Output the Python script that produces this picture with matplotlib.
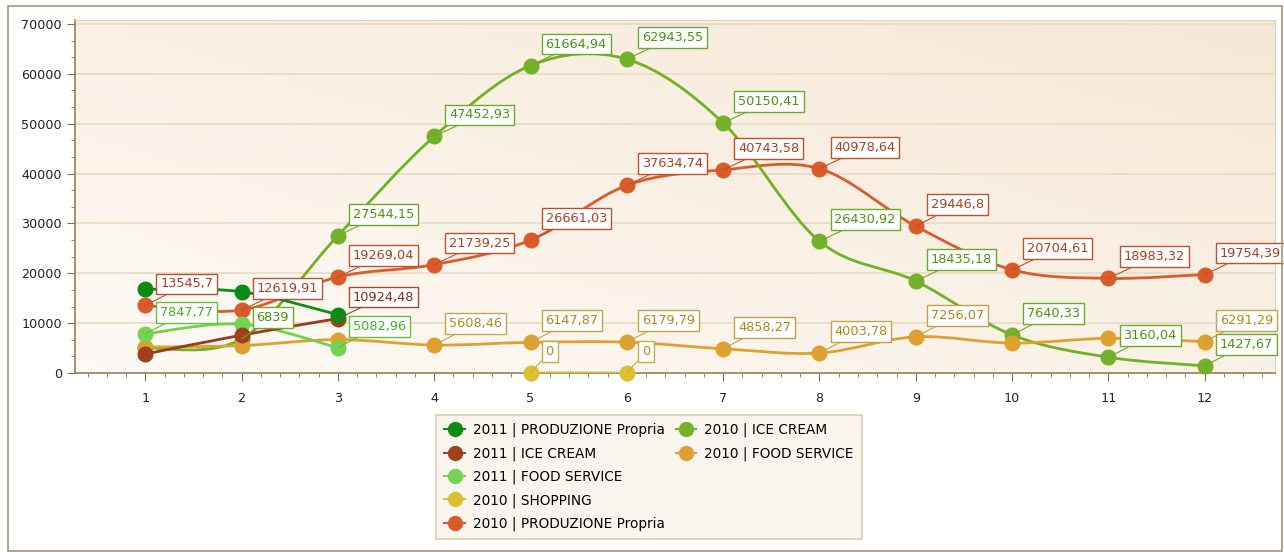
import numpy as np
import matplotlib.pyplot as plt
from matplotlib.path import Path
from matplotlib.patches import PathPatch, Rectangle
from matplotlib.lines import Line2D
from matplotlib.ticker import MultipleLocator

# months
months = list(range(1, 13))

# series values
prod_2011 = [16800, 16300, 11700]
ice_2011 = [3800, 7600, 10924.48]
food_2011 = [7847.77, 9800, 5082.96]
shop_2010_x = [5, 6]
shop_2010 = [0, 0]
prod_2010 = [13545.7, 12619.91, 19269.04, 21739.25, 26661.03, 37634.74,
             40743.58, 40978.64, 29446.8, 20704.61, 18983.32, 19754.39]
ice_2010 = [5000, 6839, 27544.15, 47452.93, 61664.94, 62943.55,
            50150.41, 26430.92, 18435.18, 7640.33, 3160.04, 1427.67]
food_2010 = [5200, 5500, 6700, 5608.46, 6147.87, 6179.79,
             4858.27, 4003.78, 7256.07, 6000, 6950, 6291.29]

# which points carry a value label (x positions)
lab_prod_2010 = months
lab_ice_2010 = [2, 3, 4, 5, 6, 7, 8, 9, 10, 11, 12]
lab_food_2010 = [4, 5, 6, 7, 8, 9, 12]
lab_shop_2010 = [5, 6]
lab_ice_2011 = [3]
lab_food_2011 = [1, 3]


def fmt(v):
    s = ('%.2f' % v).rstrip('0').rstrip('.')
    return s.replace('.', ',')


def smooth_path(xs, ys):
    # catmull-rom spline drawn as bezier curves
    p = np.column_stack([xs, ys]).astype(float)
    n = len(p)
    verts = [p[0]]
    codes = [Path.MOVETO]
    for i in range(n - 1):
        p0 = p[i - 1] if i > 0 else p[i]
        p3 = p[i + 2] if i + 2 < n else p[i + 1]
        c1 = p[i] + (p[i + 1] - p0) / 6
        c2 = p[i + 1] - (p3 - p[i]) / 6
        verts += [c1, c2, p[i + 1]]
        codes += [Path.CURVE4] * 3
    return Path(verts, codes)


fig = plt.figure(figsize=(12.84, 5.52), dpi=100)
fig.patches.append(Rectangle((8 / 1284, 1 / 552), 1274 / 1284, 545 / 552,
                             transform=fig.transFigure, fill=False,
                             ec='#a89378', lw=1.2))
ax = fig.add_axes([75 / 1284, 1 - 373 / 552, 1200 / 1284, 353 / 552])

# gradient background
gx, gy = np.meshgrid(np.linspace(0, 1, 50), np.linspace(0, 1, 50))
g = (gx + (1 - gy)) / 2
c_a = np.array([253, 250, 245]) / 255
c_b = np.array([246, 232, 214]) / 255
img = c_a[None, None, :] * (1 - g[..., None]) + c_b[None, None, :] * g[..., None]
ax.imshow(img, extent=[0, 1, 0, 1], transform=ax.transAxes, aspect='auto', zorder=0)

ax.set_xlim(0.27, 12.73)
ax.set_ylim(0, 70800)
for yv in range(10000, 70001, 10000):
    ax.axhline(yv, color='#e6dbc4', lw=1.2, zorder=1)

series = [
    # x, y, line color, marker color, label xs, text color, border color
    (months, prod_2010, '#dc5a2c', '#db5a2a', lab_prod_2010, '#b03c1c', '#c0502c'),
    (months, ice_2010, '#72b024', '#74b02a', lab_ice_2010, '#48950e', '#6eaa2a'),
    (months, food_2010, '#e0a030', '#e0a030', lab_food_2010, '#b88418', '#c8a048'),
    (shop_2010_x, shop_2010, '#d8bc30', '#dcc030', lab_shop_2010, '#a89020', '#c4ac48'),
    (months[:3], food_2011, '#74d050', '#74d352', lab_food_2011, '#3fae28', '#62c040'),
    (months[:3], ice_2011, '#9a3a1a', '#a0401e', lab_ice_2011, '#8a2a10', '#a04a2c'),
    (months[:3], prod_2011, '#0c8c18', '#0a8c14', [], '#0a7010', '#2a9a30'),
]

z = 3
for xs, ys, lc, mc, labs, tc, bc in series:
    patch = PathPatch(smooth_path(xs, ys), fill=False, ec=lc, lw=2.0, zorder=z)
    ax.add_patch(patch)
    ax.plot(xs, ys, 'o', color=mc, mec=mc, ms=10.5, zorder=z + 0.5, clip_on=False)
    for x, y in zip(xs, ys):
        if x in labs:
            ax.annotate(fmt(y), (x, y), xytext=(15, 15), textcoords='offset pixels',
                        ha='left', va='bottom', fontsize=9.3, color=tc,
                        bbox=dict(boxstyle='square,pad=0.3', fc='white', ec=bc, lw=1),
                        arrowprops=dict(arrowstyle='-', color=bc, lw=0.8,
                                        shrinkA=0, shrinkB=0),
                        zorder=20, annotation_clip=False)
    z += 1

# axes styling
for side in ['left', 'bottom']:
    ax.spines[side].set_color('#9a8050')
    ax.spines[side].set_linewidth(1.2)
for side in ['top', 'right']:
    ax.spines[side].set_color('#e0d4bc')
ax.set_xticks(months)
ax.xaxis.set_minor_locator(MultipleLocator(0.2))
ax.set_yticks(range(0, 70001, 10000))
ax.yaxis.set_minor_locator(MultipleLocator(10000 / 3))
ax.tick_params(which='major', length=6, color='#8a7040', labelsize=9.2, labelcolor='#222222')
ax.tick_params(which='minor', length=3, color='#8a7040')
ax.tick_params(axis='x', pad=8)

# legend
names = ['2011 | PRODUZIONE Propria', '2011 | ICE CREAM', '2011 | FOOD SERVICE',
         '2010 | SHOPPING', '2010 | PRODUZIONE Propria', '2010 | ICE CREAM',
         '2010 | FOOD SERVICE']
cols = ['#0a8c14', '#a0401e', '#74d352', '#dcc030', '#db5a2a', '#74b02a', '#e0a030']
handles = [Line2D([], [], color=c, marker='o', ms=10, lw=1.5) for c in cols]
blank = Line2D([], [], color='none')
handles += [blank] * 3
names += [''] * 3
leg = fig.legend(handles, names, ncol=2, loc='upper center',
                 bbox_to_anchor=(649 / 1284, 1 - 408 / 552), fontsize=9.8,
                 frameon=True, fancybox=False, edgecolor='#dccdb0',
                 facecolor='#faf5ee', framealpha=1, handlelength=1.5,
                 columnspacing=0.8, handletextpad=0.6, labelspacing=0.65,
                 borderpad=0.6)
leg.get_frame().set_linewidth(1.2)

fig.savefig('out.png', dpi=100)
